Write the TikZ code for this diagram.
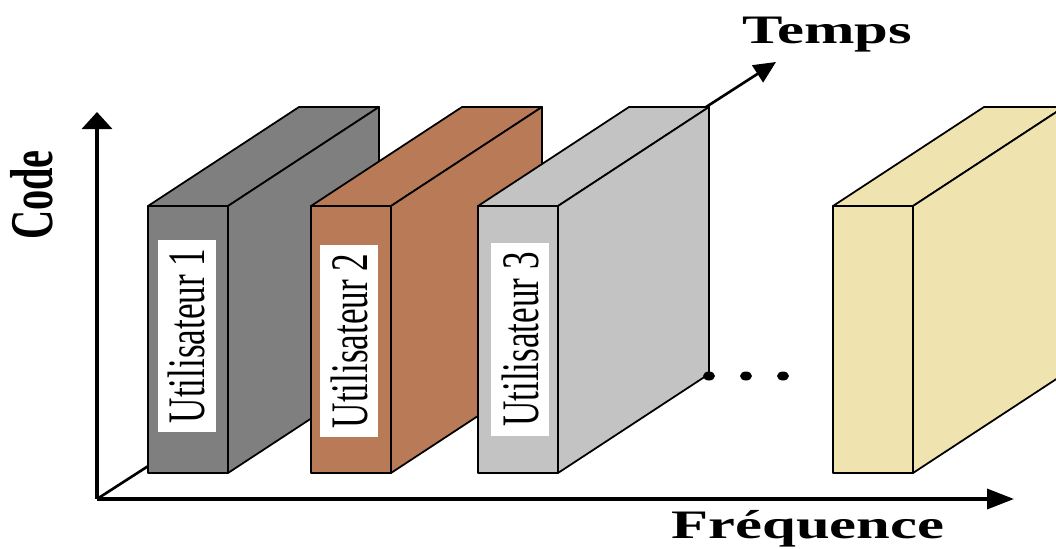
\documentclass[tikz,border=0pt]{standalone}
\usepackage{fontspec}
\setmainfont{Liberation Serif}
\usepackage{graphicx}
\usetikzlibrary{arrows.meta}
\definecolor{SlabDark}{RGB}{127,127,127}
\definecolor{SlabBrown}{RGB}{185,122,87}
\definecolor{SlabLight}{RGB}{195,195,195}
\definecolor{SlabSand}{RGB}{239,228,176}

\begin{document}
\begin{tikzpicture}[x=0.2mm,y=-0.2mm,
        face/.style={draw=black,line width=1pt,line join=round},
        axis/.style={line width=2pt,-{Triangle[length=5.4mm,width=4mm]}},
        tag/.style={rotate=90,fill=white,inner sep=0pt,
                    minimum width=38.5mm,minimum height=11.6mm,
                    font=\fontsize{20}{20}\selectfont},
        title/.style={font=\fontsize{23}{23}\selectfont\bfseries,anchor=base}
      ]
        \useasboundingbox (0,0) rectangle (1056,549);

        \coordinate (O) at (97,499);
        \coordinate (codeEnd) at (97,112);
        \coordinate (freqEnd) at (1014,499);
        \coordinate (timeEnd) at (776,62);

        % time axis first, the slabs hide most of it
        \draw[line width=1.5pt,-{Triangle[length=4.4mm,width=4mm]}] (O) -- (timeEnd);

        % slab 1
        \filldraw[face,fill=SlabDark] (148,206) -- ++(151,-99) -- ++(80,0) -- ++(-151,99) -- cycle;
        \filldraw[face,fill=SlabDark] (228,206) -- ++(151,-99) -- ++(0,267) -- ++(-151,99) -- cycle;
        \filldraw[face,fill=SlabDark] (148,206) rectangle ++(80,267);
        \node[tag] (u1) at (186.5,336) {\scalebox{1}[1.5]{Utilisateur 1}};

        % slab 2
        \filldraw[face,fill=SlabBrown] (311,206) -- ++(151,-99) -- ++(80,0) -- ++(-151,99) -- cycle;
        \filldraw[face,fill=SlabBrown] (391,206) -- ++(151,-99) -- ++(0,267) -- ++(-151,99) -- cycle;
        \filldraw[face,fill=SlabBrown] (311,206) rectangle ++(80,267);
        \node[tag] (u2) at (349,341) {\scalebox{1}[1.5]{Utilisateur 2}};

        % slab 3
        \filldraw[face,fill=SlabLight] (478,206) -- ++(151,-99) -- ++(80,0) -- ++(-151,99) -- cycle;
        \filldraw[face,fill=SlabLight] (558,206) -- ++(151,-99) -- ++(0,267) -- ++(-151,99) -- cycle;
        \filldraw[face,fill=SlabLight] (478,206) rectangle ++(80,267);
        \node[tag] (u3) at (520,339.5) {\scalebox{1}[1.5]{Utilisateur 3}};

        % last slab, no label
        \filldraw[face,fill=SlabSand] (833,206) -- ++(151,-99) -- ++(80,0) -- ++(-151,99) -- cycle;
        \filldraw[face,fill=SlabSand] (913,206) -- ++(151,-99) -- ++(0,267) -- ++(-151,99) -- cycle;
        \filldraw[face,fill=SlabSand] (833,206) rectangle ++(80,267);

        % dots
        \fill (709,376) ellipse [x radius=1.2mm,y radius=0.9mm];
        \fill (746,376) ellipse [x radius=1.2mm,y radius=0.9mm];
        \fill (783,376) ellipse [x radius=1.2mm,y radius=0.9mm];

        \draw[axis,-{Triangle[length=3.4mm,width=6mm]}] (O) -- (codeEnd);
        \draw[axis] (O) -- (freqEnd);

        \node[title] (temps) at (827,43) {\scalebox{1.5}[1]{Temps}};
        \node[title] (freq) at (808,538) {\scalebox{1.5}[1]{Fréquence}};
        \node[title,rotate=90] (code) at (52,195) {\scalebox{1}[1.5]{Code}};
      \end{tikzpicture}
\end{document}
